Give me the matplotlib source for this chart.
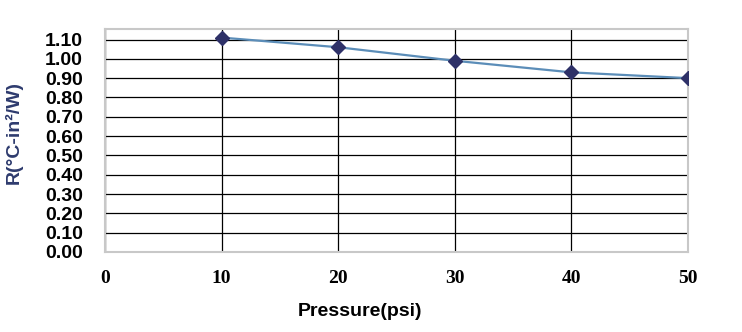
import matplotlib.pyplot as plt
from matplotlib.ticker import MultipleLocator, FormatStrFormatter

pressure = [10, 20, 30, 40, 50]
resistance = [1.11, 1.06, 0.99, 0.93, 0.90]
x_ticks = [0, 10, 20, 30, 40, 50]

fig = plt.figure(figsize=(7.42, 3.32), dpi=100)
ax = fig.add_axes([0.1415, 0.241, 0.7855, 0.672])

ax.plot(pressure, resistance, color="#5B8DB8", lw=1.6, zorder=3)
ax.plot(pressure, resistance, ls="none", marker="D", ms=7,
        color="#2E3168", zorder=4)

ax.set_xlim(0, 50)
ax.set_ylim(0, 1.155)
ax.set_xticks(x_ticks)
ax.yaxis.set_major_locator(MultipleLocator(0.1))
ax.yaxis.set_major_formatter(FormatStrFormatter("%.2f"))

ax.grid(True, color="black", lw=0.9)
ax.set_axisbelow(True)
ax.tick_params(length=0)
ax.tick_params(axis="y", pad=16)
ax.tick_params(axis="x", pad=13)
for lab in ax.get_yticklabels():
    lab.set_fontfamily("Liberation Sans")
    lab.set_fontweight("bold")
    lab.set_fontsize(14)
for lab in ax.get_xticklabels():
    lab.set_fontfamily("Liberation Serif")
    lab.set_fontweight("bold")
    lab.set_fontsize(14)

for s in ax.spines.values():
    s.set_color("#C8C8C8")
    s.set_linewidth(1.5)

fig.text(0.485, 0.063, "Pressure(psi)", ha="center", va="center",
         fontfamily="Liberation Sans", fontweight="bold", fontsize=14)
fig.text(0.019, 0.6, "R(°C-in²/W)", ha="center", va="center", rotation=90,
         fontfamily="Liberation Sans", fontweight="bold", fontsize=14,
         color="#2E3B6E")

fig.savefig("out.png", dpi=100)
